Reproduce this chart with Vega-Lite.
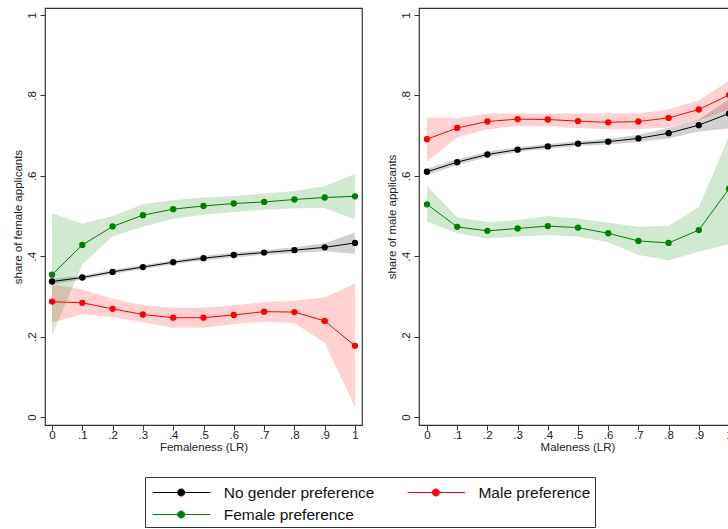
{
  "$schema": "https://vega.github.io/schema/vega-lite/v6.json",
  "padding": {"left": 11, "top": 7, "right": 0, "bottom": 0},
  "background": "white",
  "config": {
    "font": "Liberation Sans",
    "view": {"stroke": "#333333", "strokeWidth": 1.2},
    "axis": {"labelFontSize": 11.5, "titleFontSize": 11.5, "labelColor": "#222222", "titleColor": "#222222", "titleFontWeight": "normal", "tickColor": "#333333", "domain": false, "grid": false, "tickSize": 5},
    "axisX": {"labelPadding": -1, "titlePadding": 1},
    "axisY": {"labelPadding": 3, "titlePadding": 3}
  },
  "data": {"values": [
    {"p":"F","g":"No gender preference","x":0,"y":0.337,"lo":0.330,"hi":0.344},
    {"p":"F","g":"No gender preference","x":0.1,"y":0.347,"lo":0.342,"hi":0.352},
    {"p":"F","g":"No gender preference","x":0.2,"y":0.361,"lo":0.356,"hi":0.366},
    {"p":"F","g":"No gender preference","x":0.3,"y":0.373,"lo":0.368,"hi":0.378},
    {"p":"F","g":"No gender preference","x":0.4,"y":0.385,"lo":0.380,"hi":0.390},
    {"p":"F","g":"No gender preference","x":0.5,"y":0.395,"lo":0.389,"hi":0.401},
    {"p":"F","g":"No gender preference","x":0.6,"y":0.403,"lo":0.397,"hi":0.409},
    {"p":"F","g":"No gender preference","x":0.7,"y":0.409,"lo":0.403,"hi":0.415},
    {"p":"F","g":"No gender preference","x":0.8,"y":0.415,"lo":0.408,"hi":0.422},
    {"p":"F","g":"No gender preference","x":0.9,"y":0.422,"lo":0.412,"hi":0.432},
    {"p":"F","g":"No gender preference","x":1,"y":0.433,"lo":0.406,"hi":0.459},
    {"p":"F","g":"Male preference","x":0,"y":0.287,"lo":0.235,"hi":0.330},
    {"p":"F","g":"Male preference","x":0.1,"y":0.284,"lo":0.255,"hi":0.317},
    {"p":"F","g":"Male preference","x":0.2,"y":0.269,"lo":0.249,"hi":0.294},
    {"p":"F","g":"Male preference","x":0.3,"y":0.255,"lo":0.236,"hi":0.278},
    {"p":"F","g":"Male preference","x":0.4,"y":0.247,"lo":0.222,"hi":0.272},
    {"p":"F","g":"Male preference","x":0.5,"y":0.247,"lo":0.222,"hi":0.272},
    {"p":"F","g":"Male preference","x":0.6,"y":0.254,"lo":0.231,"hi":0.278},
    {"p":"F","g":"Male preference","x":0.7,"y":0.262,"lo":0.237,"hi":0.286},
    {"p":"F","g":"Male preference","x":0.8,"y":0.261,"lo":0.233,"hi":0.289},
    {"p":"F","g":"Male preference","x":0.9,"y":0.239,"lo":0.185,"hi":0.297},
    {"p":"F","g":"Male preference","x":1,"y":0.177,"lo":0.025,"hi":0.332},
    {"p":"F","g":"Female preference","x":0,"y":0.354,"lo":0.203,"hi":0.507},
    {"p":"F","g":"Female preference","x":0.1,"y":0.428,"lo":0.380,"hi":0.481},
    {"p":"F","g":"Female preference","x":0.2,"y":0.474,"lo":0.449,"hi":0.500},
    {"p":"F","g":"Female preference","x":0.3,"y":0.502,"lo":0.473,"hi":0.529},
    {"p":"F","g":"Female preference","x":0.4,"y":0.517,"lo":0.493,"hi":0.540},
    {"p":"F","g":"Female preference","x":0.5,"y":0.525,"lo":0.503,"hi":0.546},
    {"p":"F","g":"Female preference","x":0.6,"y":0.531,"lo":0.510,"hi":0.550},
    {"p":"F","g":"Female preference","x":0.7,"y":0.535,"lo":0.515,"hi":0.556},
    {"p":"F","g":"Female preference","x":0.8,"y":0.541,"lo":0.519,"hi":0.562},
    {"p":"F","g":"Female preference","x":0.9,"y":0.546,"lo":0.520,"hi":0.574},
    {"p":"F","g":"Female preference","x":1,"y":0.549,"lo":0.492,"hi":0.605},
    {"p":"M","g":"No gender preference","x":0,"y":0.610,"lo":0.602,"hi":0.618},
    {"p":"M","g":"No gender preference","x":0.1,"y":0.634,"lo":0.627,"hi":0.641},
    {"p":"M","g":"No gender preference","x":0.2,"y":0.653,"lo":0.646,"hi":0.660},
    {"p":"M","g":"No gender preference","x":0.3,"y":0.665,"lo":0.659,"hi":0.671},
    {"p":"M","g":"No gender preference","x":0.4,"y":0.673,"lo":0.667,"hi":0.679},
    {"p":"M","g":"No gender preference","x":0.5,"y":0.680,"lo":0.674,"hi":0.686},
    {"p":"M","g":"No gender preference","x":0.6,"y":0.685,"lo":0.678,"hi":0.692},
    {"p":"M","g":"No gender preference","x":0.7,"y":0.693,"lo":0.684,"hi":0.702},
    {"p":"M","g":"No gender preference","x":0.8,"y":0.706,"lo":0.693,"hi":0.719},
    {"p":"M","g":"No gender preference","x":0.9,"y":0.726,"lo":0.710,"hi":0.740},
    {"p":"M","g":"No gender preference","x":1,"y":0.755,"lo":0.718,"hi":0.790},
    {"p":"M","g":"Male preference","x":0,"y":0.691,"lo":0.636,"hi":0.745},
    {"p":"M","g":"Male preference","x":0.1,"y":0.719,"lo":0.695,"hi":0.743},
    {"p":"M","g":"Male preference","x":0.2,"y":0.735,"lo":0.716,"hi":0.755},
    {"p":"M","g":"Male preference","x":0.3,"y":0.741,"lo":0.724,"hi":0.755},
    {"p":"M","g":"Male preference","x":0.4,"y":0.740,"lo":0.723,"hi":0.755},
    {"p":"M","g":"Male preference","x":0.5,"y":0.736,"lo":0.719,"hi":0.755},
    {"p":"M","g":"Male preference","x":0.6,"y":0.733,"lo":0.716,"hi":0.755},
    {"p":"M","g":"Male preference","x":0.7,"y":0.735,"lo":0.716,"hi":0.755},
    {"p":"M","g":"Male preference","x":0.8,"y":0.744,"lo":0.721,"hi":0.765},
    {"p":"M","g":"Male preference","x":0.9,"y":0.765,"lo":0.738,"hi":0.788},
    {"p":"M","g":"Male preference","x":1,"y":0.801,"lo":0.765,"hi":0.836},
    {"p":"M","g":"Female preference","x":0,"y":0.529,"lo":0.486,"hi":0.575},
    {"p":"M","g":"Female preference","x":0.1,"y":0.473,"lo":0.457,"hi":0.496},
    {"p":"M","g":"Female preference","x":0.2,"y":0.463,"lo":0.444,"hi":0.485},
    {"p":"M","g":"Female preference","x":0.3,"y":0.469,"lo":0.449,"hi":0.490},
    {"p":"M","g":"Female preference","x":0.4,"y":0.475,"lo":0.452,"hi":0.500},
    {"p":"M","g":"Female preference","x":0.5,"y":0.471,"lo":0.449,"hi":0.494},
    {"p":"M","g":"Female preference","x":0.6,"y":0.457,"lo":0.435,"hi":0.483},
    {"p":"M","g":"Female preference","x":0.7,"y":0.438,"lo":0.403,"hi":0.473},
    {"p":"M","g":"Female preference","x":0.8,"y":0.433,"lo":0.390,"hi":0.475},
    {"p":"M","g":"Female preference","x":0.9,"y":0.465,"lo":0.411,"hi":0.522},
    {"p":"M","g":"Female preference","x":1,"y":0.568,"lo":0.430,"hi":0.699}
  ]},
  "spacing": 22,
  "resolve": {"scale": {"color": "shared"}},
  "hconcat": [
    {
      "width": 317, "height": 417,
      "transform": [{"filter": "datum.p == 'F'"}],
      "encoding": {
        "x": {"field": "x", "type": "quantitative", "scale": {"domain": [-0.0231, 1.0231], "nice": false, "zero": false},
              "axis": {"title": "Femaleness (LR)", "values": [0,0.1,0.2,0.3,0.4,0.5,0.6,0.7,0.8,0.9,1], "labelExpr": "datum.value == 0 ? '0' : datum.value > 0.99 ? '1' : '.' + round(datum.value * 10)"}},
        "color": {"field": "g", "type": "nominal",
                  "scale": {"domain": ["No gender preference", "Male preference", "Female preference"], "range": ["#000000", "#ff0000", "#008000"]},
                  "legend": {"orient": "none", "legendX": 100, "legendY": 469, "columns": 2, "direction": "horizontal", "title": null,
                             "strokeColor": "#333333", "fillColor": "white", "padding": 4, "columnPadding": 28.7, "rowPadding": 2,
                             "labelFontSize": 15.5, "labelColor": "#111111", "labelOffset": 51.7, "labelLimit": 300,
                             "symbolSize": 484, "symbolStrokeWidth": 1,
                             "symbolType": "M-0.7,0H4.545M1.56,0A0.32,0.32,0,1,0,2.2,0A0.32,0.32,0,1,0,1.56,0Z",
                             "encode": {"symbols": {"update": {"fill": {"scale": "color", "field": "value"}, "stroke": {"scale": "color", "field": "value"}, "opacity": {"value": 1}, "fillOpacity": {"value": 1}, "strokeOpacity": {"value": 1}}}}}}
      },
      "layer": [
        {"mark": {"type": "area", "opacity": 0.18},
         "encoding": {"y": {"field": "lo", "type": "quantitative", "scale": {"domain": [-0.0199, 1.0174], "nice": false, "zero": false},
                            "axis": {"title": "share of female applicants", "values": [0,0.2,0.4,0.6,0.8,1], "labelExpr": "datum.value == 0 ? '0' : datum.value > 0.99 ? '1' : '.' + round(datum.value * 10)", "labelAngle": -90, "labelAlign": "center", "labelBaseline": "bottom"}},
                      "y2": {"field": "hi"}, "detail": {"field": "g"}}},
        {"mark": {"type": "line", "strokeWidth": 1},
         "encoding": {"y": {"field": "y", "type": "quantitative"}}},
        {"mark": {"type": "point", "filled": true, "opacity": 1, "size": 40},
         "encoding": {"y": {"field": "y", "type": "quantitative"}}}
      ]
    },
    {
      "width": 317, "height": 417,
      "transform": [{"filter": "datum.p == 'M'"}],
      "encoding": {
        "x": {"field": "x", "type": "quantitative", "scale": {"domain": [-0.0264, 1.0231], "nice": false, "zero": false},
              "axis": {"title": "Maleness (LR)", "values": [0,0.1,0.2,0.3,0.4,0.5,0.6,0.7,0.8,0.9,1], "labelExpr": "datum.value == 0 ? '0' : datum.value > 0.99 ? '1' : '.' + round(datum.value * 10)"}},
        "color": {"field": "g", "type": "nominal", "scale": {"domain": ["No gender preference", "Male preference", "Female preference"], "range": ["#000000", "#ff0000", "#008000"]}}
      },
      "layer": [
        {"mark": {"type": "area", "opacity": 0.18},
         "encoding": {"y": {"field": "lo", "type": "quantitative", "scale": {"domain": [-0.0199, 1.0174], "nice": false, "zero": false},
                            "axis": {"title": "share of male applicants", "values": [0,0.2,0.4,0.6,0.8,1], "labelExpr": "datum.value == 0 ? '0' : datum.value > 0.99 ? '1' : '.' + round(datum.value * 10)", "labelAngle": -90, "labelAlign": "center", "labelBaseline": "bottom"}},
                      "y2": {"field": "hi"}, "detail": {"field": "g"}}},
        {"mark": {"type": "line", "strokeWidth": 1},
         "encoding": {"y": {"field": "y", "type": "quantitative"}}},
        {"mark": {"type": "point", "filled": true, "opacity": 1, "size": 40},
         "encoding": {"y": {"field": "y", "type": "quantitative"}}}
      ]
    }
  ]
}
